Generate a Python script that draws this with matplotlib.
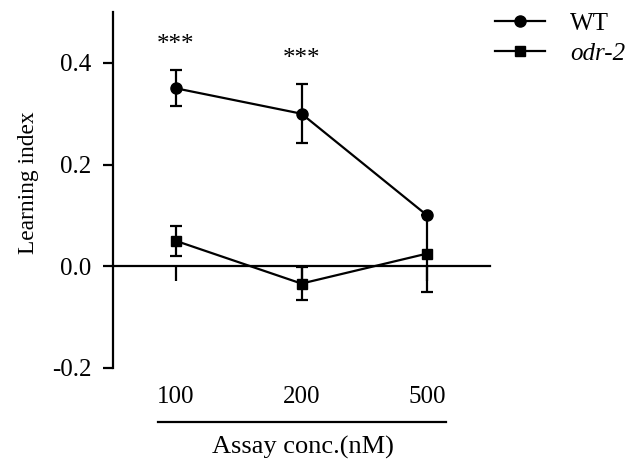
"""Learning index vs assay concentration, WT vs odr-2."""
import matplotlib
matplotlib.use("Agg")
import matplotlib.pyplot as plt
from matplotlib.lines import Line2D

plt.rcParams["font.family"] = ["Liberation Serif", "DejaVu Serif"]

# data
conc_labels = ["100", "200", "500"]
wt_mean = [0.35, 0.30, 0.10]
wt_err = [0.035, 0.058, 0.0]
odr2_mean = [0.05, -0.034, 0.025]
odr2_err = [0.030, 0.033, 0.075]
sig_labels = ["***", "***", ""]
sig_y = [0.436, 0.408, None]

xpos = list(range(len(conc_labels)))

fig = plt.figure(figsize=(6.34, 4.62), dpi=100, facecolor="white")
ax = fig.add_axes([113 / 634, 1 - 368 / 462, 377 / 634, 356 / 462])

lw = 1.6
ax.errorbar(xpos, odr2_mean, yerr=odr2_err, color="black", marker="s", ms=7,
            lw=lw, elinewidth=lw, capsize=4, capthick=lw, zorder=3)
# only draw WT error bars where there is an error
wt_x = [x for x, e in zip(xpos, wt_err) if e > 0]
wt_y = [m for m, e in zip(wt_mean, wt_err) if e > 0]
wt_e = [e for e in wt_err if e > 0]
ax.errorbar(wt_x, wt_y, yerr=wt_e, fmt="none", ecolor="black",
            elinewidth=lw, capsize=4, capthick=lw, zorder=4)
ax.plot(xpos, wt_mean, color="black", marker="o", ms=8, lw=lw, zorder=5)

for x, s, y in zip(xpos, sig_labels, sig_y):
    if s:
        ax.text(x, y, s, ha="center", va="center", fontsize=18)

ax.set_xlim(-0.5, 2.5)
ax.set_ylim(-0.2, 0.5)
ax.set_yticks([-0.2, 0.0, 0.2, 0.4])
ax.set_yticklabels(["-0.2", "0.0", "0.2", "0.4"])
ax.set_xticks(xpos)
ax.set_xticklabels(conc_labels)

ax.spines["top"].set_visible(False)
ax.spines["right"].set_visible(False)
ax.spines["bottom"].set_position(("data", 0))
for sp in ("left", "bottom"):
    ax.spines[sp].set_linewidth(lw)
ax.tick_params(axis="y", direction="out", length=7.5, width=lw, labelsize=18, pad=8)
ax.tick_params(axis="x", direction="out", length=11, width=lw, labelsize=18, pad=75)

ax.set_ylabel("Learning index", fontsize=16.8)
ax.yaxis.set_label_coords(-0.195, 0.52)

# group line under the x tick labels and the axis title
ax.plot([0.12, 0.882], [-0.151, -0.151], color="black", lw=lw,
        transform=ax.transAxes, clip_on=False)
ax.text(0.505, -0.222, "Assay conc.(nM)", ha="center", va="center",
        fontsize=19, transform=ax.transAxes)

handles = [
    Line2D([], [], color="black", marker="o", ms=8, lw=lw),
    Line2D([], [], color="black", marker="s", ms=7, lw=lw),
]
leg = ax.legend(handles, ["WT", "odr-2"], loc="upper left",
                bbox_to_anchor=(495 / 634, 1 - 12 / 462),
                bbox_transform=fig.transFigure, frameon=False, fontsize=18,
                handlelength=2.0, handletextpad=1.0, borderpad=0,
                borderaxespad=0, labelspacing=0.3)
leg.get_texts()[1].set_fontstyle("italic")

fig.savefig("out.png", dpi=100)
